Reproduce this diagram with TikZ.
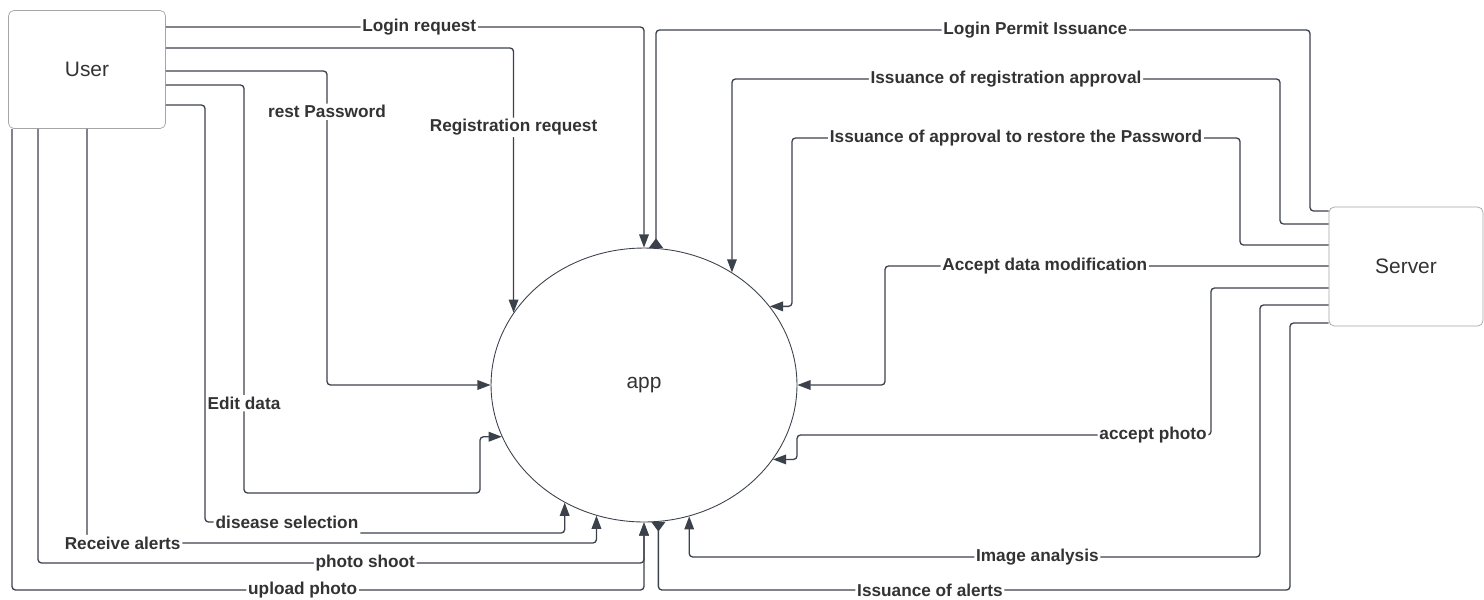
\documentclass[tikz,border=0pt]{standalone}
\usepackage{fontspec}
\setmainfont{Liberation Sans}
\usetikzlibrary{arrows.meta,shapes.geometric}
\definecolor{ink}{RGB}{60,66,76}
\definecolor{txt}{RGB}{51,51,51}
\definecolor{frame}{RGB}{165,165,165}

\begin{document}
\begin{tikzpicture}[x=0.02cm,y=-0.02cm,
    box/.style={draw=frame,rounded corners=3pt,fill=white,minimum width=3.14cm,minimum height=2.36cm,inner sep=0pt,font=\fontsize{11.9}{14}\selectfont,text=txt},
    proc/.style={draw=ink,ellipse,line width=0.5pt,minimum width=6.12cm,minimum height=5.48cm,inner sep=0pt,font=\fontsize{11.9}{14}\selectfont,text=txt},
    line/.style={draw=ink,line width=0.75pt,rounded corners=2pt},
    flow/.style={line,-{Triangle[length=7.5pt,width=5.5pt]}},
    back/.style={line,-{Triangle[reversed,length=5.5pt,width=8pt]}},
    lbl/.style={fill=white,inner sep=1pt,text=txt,font=\fontsize{9.8}{12}\selectfont\bfseries}]
  \useasboundingbox (0,0) rectangle (1484,599);

  \node[box]                                          (user)   at (87,69.5)    {User};
  \node[box,minimum width=3.08cm,minimum height=2.38cm] (server) at (1406,266.5) {Server};
  \node[proc]                                         (app)    at (644,385)    {app};

  \draw[flow] (user.east |- 0,27) -- node[lbl,pos=.53] (l1) {Login request} (app.north |- 0,27) -- (app.north);
  \draw[flow] (user.east |- 0,48) -- (app.151 |- 0,48) -- node[lbl,pos=.3] (l2) {Registration request} (app.151);
  \draw[flow] (user.east |- 0,71) -- (327,71) -- node[lbl,pos=.13] (l3) {rest Password} (app.west -| 327,0) -- (app.west);
  \draw[flow] (user.east |- 0,85) -- (244,85) -- node[lbl,pos=.78] (l4) {Edit data} (244,493) -- (480,493) |- (app.200);
  \node[lbl] (l5) at (287,522) {disease selection};
  \draw[line] (user.east |- 0,105) -- (205,105) -- (205,522) -- (l5.west);
  \draw[flow] (l5.east |- 0,533) -| (app.236);
  \draw[flow] (user.south -| 87,0) -- (87,543) -- node[lbl,pos=.07] (l6) {Receive alerts} (app.250 |- 0,543) -- (app.250);
  \draw[flow] (user.south -| 38,0) -- (38,563) -- node[lbl,pos=.54] (l7) {photo shoot} (app.south |- 0,563) -- (app.south);
  \draw[flow] (user.south -| 12,0) -- (12,590) -- node[lbl,pos=.46] (l8) {upload photo} (app.south |- 0,590) -- (app.south);

  \draw[back] (server.west |- 0,211) -- (1310,211) -- (1310,30) -- node[lbl,pos=.42] (r1) {Login Permit Issuance} (app.85 |- 0,30) -- (app.85);
  \draw[flow] (server.west |- 0,224) -- (1280,224) -- (1280,79) -- node[lbl,pos=.5] (r2) {Issuance of registration approval} (app.52 |- 0,79) -- (app.52);
  \draw[flow] (server.west |- 0,245) -- (1240,245) -- (1240,138) -- node[lbl,pos=.5] (r3) {Issuance of approval to restore the Password} (792,138) |- (app.32);
  \draw[flow] (server.west |- 0,266) -- node[lbl,pos=.64] (r4) {Accept data modification} (885,266) |- (app.east);
  \draw[flow] (server.west |- 0,288) -- (1211,288) -- (1211,435) -- node[lbl,pos=.14] (r5) {accept photo} (797,435) |- (app.330);
  \draw[flow] (server.west |- 0,305) -- (1260,305) -- (1260,557) -- node[lbl,pos=.39] (r6) {Image analysis} (app.289 |- 0,557) -- (app.289);
  \draw[back] (server.west |- 0,323) -- (1290,323) -- (1290,590) -- node[lbl,pos=.57,inner ysep=0pt] (r7) {Issuance of alerts} (app.276 |- 0,590) -- (app.276);
\end{tikzpicture}
\end{document}
